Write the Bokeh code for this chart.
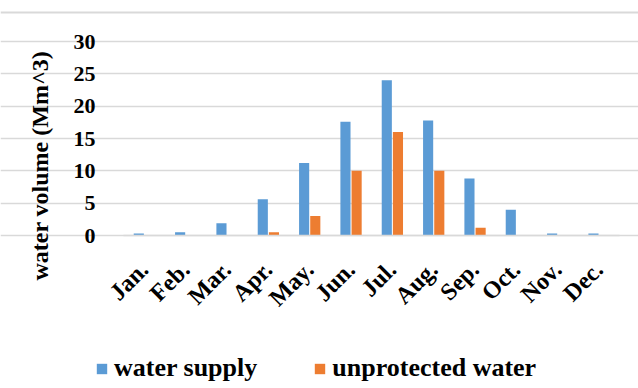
import math
from bokeh.plotting import figure
from bokeh.models import (Range1d, Legend, LegendItem, Label, Span,
                          ColumnDataSource, FixedTicker)
from bokeh.transform import dodge
from bokeh.embed import file_html
from bokeh.resources import INLINE

months = ["Jan.", "Feb.", "Mar.", "Apr.", "May.", "Jun.", "Jul.", "Aug.", "Sep.", "Oct.", "Nov.", "Dec."]
water_supply = [0.3, 0.5, 1.9, 5.6, 11.2, 17.6, 24.0, 17.8, 8.8, 4.0, 0.3, 0.3]
unprotected_water = [0, 0, 0, 0.5, 3.0, 10.0, 16.0, 10.0, 1.2, 0, 0, 0]
y_ticks = [0, 5, 10, 15, 20, 25, 30]
series_names = ["water supply", "unprotected water"]
y_title = "water volume (Mm^3)"

FONT = "Liberation Serif"
BLUE = "#5B9BD5"
ORANGE = "#ED7D31"
GRID = "#d9d9d9"

idx = list(range(len(months)))
src = ColumnDataSource(dict(idx=idx, ws=water_supply, uw=unprotected_water))

# The plotting frame fills the whole figure; axes are pinned at x=-0.5 / y=0
# so that the legend and title can sit inside the frame (as in the reference).
W, H = 638, 388
px_x = 496 / 12.0      # pixels per month slot
px_y = 194 / 30.0      # pixels per Mm^3
left_px, top_px, right_px, bottom_px = 123, 41, 19, 153
x_range = Range1d(-0.5 - left_px / px_x, 11.5 + right_px / px_x)
y_range = Range1d(-bottom_px / px_y, 30 + top_px / px_y)

p = figure(width=W, height=H, x_range=x_range, y_range=y_range,
           output_backend="svg", toolbar_location=None, min_border=0)
p.outline_line_color = None

r1 = p.vbar(x=dodge("idx", -0.13), top="ws", width=0.245,
            source=src, fill_color=BLUE, line_color=None)
r2 = p.vbar(x=dodge("idx", 0.14), top="uw", width=0.245,
            source=src, fill_color=ORANGE, line_color=None)

p.xgrid.grid_line_color = None
p.ygrid.grid_line_color = GRID
p.ygrid.grid_line_width = 1.5
p.ygrid.bounds = (-0.5, 11.5)

yax = p.yaxis[0]
yax.fixed_location = -0.5
yax.ticker = FixedTicker(ticks=y_ticks)
yax.axis_line_color = None
yax.major_tick_line_color = None
yax.minor_tick_line_color = None
yax.major_label_standoff = 22
yax.major_label_text_font = FONT
yax.major_label_text_font_style = "bold"
yax.major_label_text_font_size = "22px"
yax.major_label_text_color = "black"

xax = p.xaxis[0]
xax.fixed_location = 0
xax.bounds = (-0.5, 11.5)
xax.ticker = FixedTicker(ticks=idx)
xax.major_label_overrides = {i: m for i, m in zip(idx, months)}
xax.axis_line_color = GRID
xax.axis_line_width = 1.5
xax.major_tick_line_color = None
xax.minor_tick_line_color = None
xax.major_label_orientation = math.pi / 4
xax.major_label_standoff = 24
xax.major_label_text_font = FONT
xax.major_label_text_font_style = "bold"
xax.major_label_text_font_size = "24px"
xax.major_label_text_color = "black"

title = Label(x=39, y=10.8, x_units="screen", y_units="data",
              text=y_title, angle=math.pi / 2,
              text_align="center", text_baseline="middle",
              text_font=FONT, text_font_style="bold", text_font_size="24px",
              text_color="black")
p.add_layout(title)

# thin grey border line at the very top of the chart area
p.add_layout(Span(location=30 + 29 / px_y, dimension="width",
                  line_color=GRID, line_width=2))

legend = Legend(items=[LegendItem(label=series_names[0], renderers=[r1]),
                       LegendItem(label=series_names[1], renderers=[r2])],
                orientation="horizontal", location=(95, 5),
                glyph_width=13, glyph_height=13, label_standoff=6, spacing=56,
                padding=0, margin=0, border_line_color=None,
                background_fill_alpha=0,
                label_text_font=FONT, label_text_font_style="bold",
                label_text_font_size="26px", label_text_color="black")
p.add_layout(legend, "center")

open("out.html", "w").write(file_html(p, INLINE))
